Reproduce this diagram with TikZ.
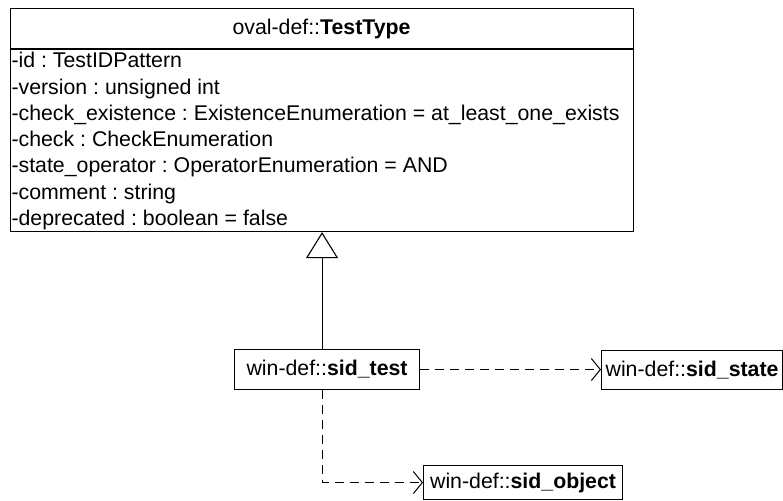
\documentclass[tikz,border=0pt]{standalone}
\usepackage{fontspec}
\setmainfont{Liberation Sans}
\usetikzlibrary{arrows.meta}
\begin{document}
\frenchspacing
\begin{tikzpicture}[x=1pt,y=-1pt,line width=1.1pt,
  txt/.style={font=\fontsize{21.3}{26}\selectfont, inner sep=0pt},
  dep/.style={draw, dash pattern=on 9pt off 6pt, -{Straight Barb[length=9pt,width=22pt,line width=1pt]}},
  gen/.style={draw, -{Triangle[open,length=26pt,width=32pt,line width=1.1pt]}}]
\useasboundingbox (0,0) rectangle (783,500);
% main class
\node[draw, anchor=north west, minimum width=623pt, minimum height=223pt, inner sep=0pt] (tt) at (10,8) {};
\coordinate (hl) at (10,49);
\coordinate (hr) at (633,49);
\draw (hl) -- (hr);
\node[txt] (title) at (321.5,29) {\frenchspacing oval-def::\textbf{TestType}};
\foreach \t [count=\i from 0] in {
  -id : TestIDPattern,
  -version : unsigned int,
  -check\_existence : ExistenceEnumeration = at\_least\_one\_exists,
  -check : CheckEnumeration,
  -state\_operator : OperatorEnumeration = AND,
  -comment : string,
  -deprecated : boolean = false}
  \node[txt, anchor=base west] (a\i) at (11,{68+26.2*\i}) {\frenchspacing\t};
% other classes
\node[draw, txt, minimum width=185pt, minimum height=40pt, anchor=north west] (sidtest) at (234,349) {win-def::\textbf{sid\_test}};
\node[draw, txt, minimum width=181pt, minimum height=39pt, anchor=north west] (sidstate) at (601,350) {win-def::\textbf{sid\_state}};
\node[draw, txt, minimum width=199pt, minimum height=34pt, anchor=north west] (sidobject) at (423,465) {win-def::\textbf{sid\_object}};
% connectors
\path[gen] (sidtest.north -| tt.south) -- (tt.south);
\path[dep] (sidtest.east) -- (sidstate.west |- sidtest.east);
\path[dep] (sidtest.south -| tt.south) |- (sidobject.west);
\end{tikzpicture}
\end{document}
